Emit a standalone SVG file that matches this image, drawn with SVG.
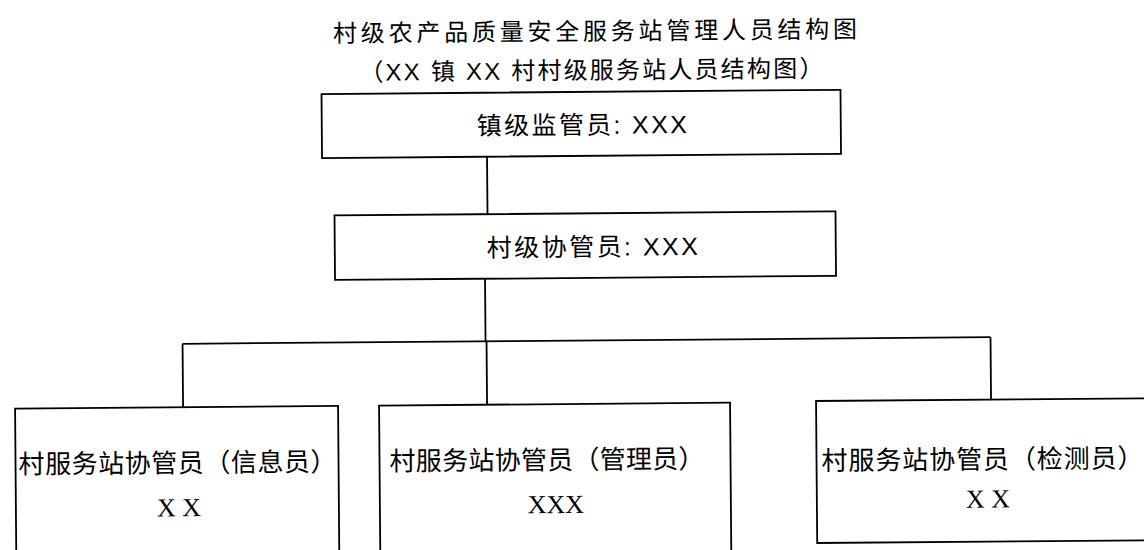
<svg xmlns="http://www.w3.org/2000/svg" width="1144" height="550" viewBox="0 0 1144 550">
<style>
  .box{fill:#fff;stroke:#000;stroke-width:1.8}
  .ln{fill:none;stroke:#000;stroke-width:1.8}
  .t{font-family:"Liberation Sans","Noto Sans CJK SC",sans-serif;fill:#000}
  .cjk{font-family:"Noto Sans CJK SC","Liberation Sans",sans-serif;fill:#000}
  .s{font-family:"Liberation Serif","Noto Sans CJK SC",serif;fill:#000}
</style>
<rect width="1144" height="550" fill="#fff"/>
<g transform="rotate(-0.47 572 275)">
  <g id="title">
    <text class="t" x="335" y="40" font-size="24" textLength="524" lengthAdjust="spacing">村级农产品质量安全服务站管理人员结构图</text>
    <text class="t" x="361" y="79" font-size="24" textLength="464" lengthAdjust="spacing">（XX 镇 XX 村村级服务站人员结构图）</text>
  </g>
  <g id="connectors">
    <line class="ln" x1="488" y1="156" x2="488" y2="213.5"/>
    <line class="ln" x1="485" y1="278" x2="485" y2="340.6"/>
    <line class="ln" x1="182" y1="340.6" x2="990" y2="340.6"/>
    <line class="ln" x1="182" y1="340.6" x2="182" y2="404"/>
    <line class="ln" x1="486" y1="340.6" x2="486" y2="404"/>
    <line class="ln" x1="990" y1="340.6" x2="990" y2="403"/>
  </g>
  <g id="node-town">
    <rect class="box" x="323" y="92" width="519" height="64"/>
    <text class="t" x="478" y="134" font-size="25" textLength="210" lengthAdjust="spacing">镇级监管员: XXX</text>
  </g>
  <g id="node-village">
    <rect class="box" x="335" y="213.5" width="501" height="64.5"/>
    <text class="t" x="487" y="256" font-size="25" textLength="211" lengthAdjust="spacing">村级协管员: XXX</text>
  </g>
  <g id="node-info">
    <rect class="box" x="14" y="404" width="323" height="160"/>
    <text class="cjk" x="17" y="469" font-size="26" textLength="318" lengthAdjust="spacing">村服务站协管员（信息员）</text>
    <text class="s" x="177" y="513" font-size="26" text-anchor="middle">X X</text>
  </g>
  <g id="node-manage">
    <rect class="box" x="378" y="404" width="351" height="160"/>
    <text class="cjk" x="388" y="469" font-size="26" textLength="315" lengthAdjust="spacing">村服务站协管员（管理员）</text>
    <text class="s" x="554" y="513" font-size="26" text-anchor="middle">XXX</text>
  </g>
  <g id="node-test">
    <rect class="box" x="815" y="403" width="360" height="142"/>
    <text class="cjk" x="820" y="472" font-size="26" textLength="322" lengthAdjust="spacing">村服务站协管员（检测员）</text>
    <text class="s" x="986" y="511" font-size="26" text-anchor="middle">X X</text>
  </g>
</g>
</svg>
